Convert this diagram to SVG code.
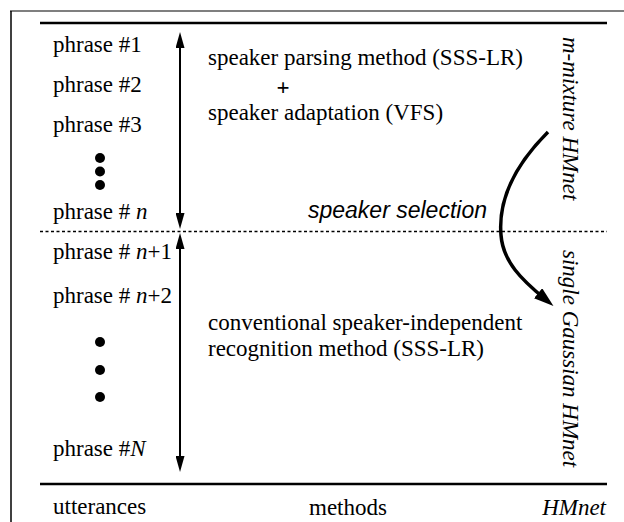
<svg xmlns="http://www.w3.org/2000/svg" width="624" height="522" viewBox="0 0 624 522">
<style>
  .t { font-family: "Liberation Serif", "Times New Roman", serif; font-size: 23px; fill: #000; }
  .i { font-style: italic; }
  .s { font-family: "Liberation Sans", Arial, sans-serif; font-size: 23px; font-style: italic; fill: #000; }
  .ln { stroke: #000; fill: none; }
</style>
<defs>
  <marker id="ah" viewBox="0 0 16 9" refX="8" refY="4.5" markerWidth="16" markerHeight="9" markerUnits="userSpaceOnUse" orient="auto-start-reverse">
    <path d="M0,0 L16,4.5 L0,9 z" fill="#000"/>
  </marker>
  <marker id="ah2" viewBox="0 0 20 13" refX="9" refY="6.5" markerWidth="20" markerHeight="13" markerUnits="userSpaceOnUse" orient="auto">
    <path d="M0,0 L20,6.5 L0,13 z" fill="#000"/>
  </marker>
</defs>
<rect width="624" height="522" fill="#fff"/>
<g id="frame">
  <line class="ln" x1="10" y1="11" x2="624" y2="11" stroke-width="1.2"/>
  <line class="ln" x1="11" y1="11" x2="11" y2="522" stroke-width="1.5"/>
  <line class="ln" x1="40" y1="23" x2="607" y2="23" stroke-width="2.5"/>
  <line class="ln" x1="40" y1="231.5" x2="607" y2="231.5" stroke-width="1.5" stroke-dasharray="3 2.5"/>
  <line class="ln" x1="40" y1="484" x2="607" y2="484" stroke-width="2.5"/>
</g>
<g id="utterances">
  <text class="t" x="53" y="52">phrase #1</text>
  <text class="t" x="53" y="92">phrase #2</text>
  <text class="t" x="53" y="132">phrase #3</text>
  <circle cx="100" cy="158" r="5"/>
  <circle cx="100" cy="171.5" r="5"/>
  <circle cx="100" cy="185" r="5"/>
  <text class="t" x="53" y="219">phrase # <tspan class="i">n</tspan></text>
  <text class="t" x="53" y="259">phrase # <tspan class="i">n</tspan>+1</text>
  <text class="t" x="53" y="303">phrase # <tspan class="i">n</tspan>+2</text>
  <circle cx="100" cy="342" r="5"/>
  <circle cx="100" cy="370" r="5"/>
  <circle cx="100" cy="397" r="5"/>
  <text class="t" x="53" y="456">phrase #<tspan class="i">N</tspan></text>
  <text class="t" x="53" y="514">utterances</text>
</g>
<g id="methods">
  <text class="t" x="208" y="65">speaker parsing method (SSS-LR)</text>
  <text class="t" x="283" y="95" text-anchor="middle" font-size="20" font-weight="bold">+</text>
  <text class="t" x="208" y="120">speaker adaptation (VFS)</text>
  <text class="s" x="308" y="218">speaker selection</text>
  <text class="t" x="208" y="330">conventional speaker-independent</text>
  <text class="t" x="208" y="356">recognition method (SSS-LR)</text>
  <text class="t" x="348" y="515" text-anchor="middle">methods</text>
</g>
<g id="hmnet">
  <text class="t i" transform="translate(563,37) rotate(90)">m-mixture HMnet</text>
  <text class="t i" transform="translate(563,250) rotate(90)">single Gaussian HMnet</text>
  <text class="t i" x="606" y="515" text-anchor="end">HMnet</text>
</g>
<g id="connectors">
  <line class="ln" x1="180" y1="40" x2="180" y2="221" stroke-width="2" marker-start="url(#ah)" marker-end="url(#ah)"/>
  <line class="ln" x1="180" y1="241" x2="180" y2="464" stroke-width="2" marker-start="url(#ah)" marker-end="url(#ah)"/>
  <path class="ln" d="M548,132 C515,165 498,200 501,235 C503,262 522,280 545,299" stroke-width="3.5" marker-end="url(#ah2)"/>
</g>
</svg>
